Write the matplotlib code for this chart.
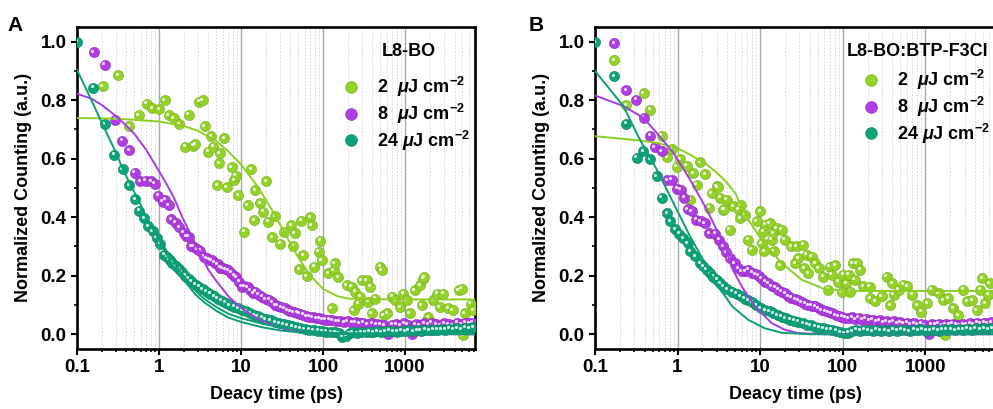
import matplotlib
matplotlib.use('Agg')
import matplotlib.pyplot as plt
from matplotlib.transforms import offset_copy
from matplotlib.lines import Line2D

plt.rcParams['font.family'] = ['Liberation Sans', 'DejaVu Sans']
plt.rcParams['font.weight'] = 'bold'
plt.rcParams['axes.labelweight'] = 'bold'
plt.rcParams['mathtext.fontset'] = 'custom'
plt.rcParams['mathtext.rm'] = 'Liberation Sans:bold'
plt.rcParams['mathtext.it'] = 'Liberation Sans:italic:bold'
plt.rcParams['mathtext.bf'] = 'Liberation Sans:bold'

# ---------------- panel A : L8-BO ----------------
a_t_2 = [0.206, 0.316, 0.434, 0.565, 0.71, 0.82, 1.01, 1.17, 1.31, 1.51, 1.77, 2.09, 2.3, 2.6, 2.78,
         3.1, 3.4, 3.6, 4.0, 4.3, 4.6, 5.1, 5.4, 5.5, 6.2, 6.7, 7.7, 8.3, 8.6, 9.3, 11, 12, 13.2, 14.5,
         15, 17.1, 18.7, 20.2, 21.4, 24, 26, 30, 33.5, 41, 43.6, 45, 51, 54, 57, 63, 70, 73, 78.6, 88,
         92, 96, 115, 128, 134, 139, 154, 194, 224, 235, 246, 270, 283, 296, 340, 355, 373, 390, 432,
         500, 520, 550, 600, 690, 755, 865, 950, 1040, 1140, 1310, 1530, 1600, 1650, 1700, 1900, 2200,
         2450, 2650, 2900, 3350, 3800, 4500, 4900, 5100, 5300, 6300, 6800]
a_v_2 = [0.847, 0.885, 0.712, 0.749, 0.788, 0.773, 0.77, 0.80, 0.749, 0.739, 0.718, 0.641, 0.75, 0.644,
         0.65, 0.795, 0.80, 0.712, 0.624, 0.676, 0.641, 0.509, 0.585, 0.619, 0.67, 0.502, 0.571, 0.527,
         0.542, 0.476, 0.35, 0.442, 0.564, 0.39, 0.493, 0.448, 0.419, 0.522, 0.385, 0.331, 0.404, 0.31,
         0.35, 0.373, 0.301, 0.345, 0.222, 0.388, 0.27, 0.199, 0.4, 0.373, 0.231, 0.282, 0.32, 0.253,
         0.208, 0.088, 0.219, 0.242, 0.196, 0.168, 0.162, 0.082, 0.145, 0.105, 0.128, 0.185, 0.185,
         0.111, 0.162, 0.071, 0.122, 0.231, 0.219, 0.065, 0.071, 0.128, 0.116, 0.093, 0.139, 0.116,
         0.071, 0.151, 0.168, 0.099, 0.19, 0.196, 0.059, 0.116, 0.139, 0.093, 0.139, 0.088, 0.082,
         0.151, 0.156, -0.003, 0.071, 0.105, 0.082]

a_t_8 = [0.16, 0.217, 0.29, 0.354, 0.434, 0.505, 0.59, 0.69, 0.8, 0.89, 0.97, 1.11, 1.2, 1.31, 1.41,
         1.6, 1.77, 2.0, 2.15, 2.3, 2.45, 2.65, 2.9, 3.2, 3.5, 3.8, 4.1, 4.4, 4.8, 5.2, 5.6, 6.0, 6.5,
         7.0, 7.6, 8.2, 8.8, 9.5, 10.2, 11, 12, 13, 14, 15, 16.5, 18, 20, 22, 24, 26, 28, 31, 34, 37,
         40, 44, 48, 52, 57, 62, 68, 75, 82, 90, 98, 108, 118, 130, 145, 160, 180, 200, 225, 250, 280,
         310, 350, 400, 450, 500, 560, 620, 700, 780, 870, 970, 1080, 1200, 1350, 1500, 1700, 1900,
         2100, 2400, 2700, 3000, 3400, 3800, 4300, 4800, 5400, 6000, 6700]
a_v_8 = [0.963, 0.921, 0.733, 0.661, 0.628, 0.552, 0.522, 0.525, 0.522, 0.514, 0.473, 0.453, 0.46,
         0.442, 0.393, 0.381, 0.365, 0.347, 0.335, 0.333, 0.30, 0.299, 0.29, 0.285, 0.265, 0.26, 0.255,
         0.253, 0.245, 0.24, 0.228, 0.225, 0.222, 0.219, 0.21, 0.20, 0.195, 0.18, 0.162, 0.165, 0.16,
         0.15, 0.14, 0.145, 0.135, 0.128, 0.12, 0.118, 0.11, 0.10, 0.098, 0.093, 0.09, 0.082, 0.078,
         0.076, 0.074, 0.07, 0.067, 0.062, 0.06, 0.058, 0.055, 0.054, 0.052, 0.05, 0.05, 0.048, 0.045,
         0.045, 0.042, 0.045, 0.04, 0.042, 0.038, 0.04, 0.035, 0.038, 0.035, 0.033, 0.03, 0.0, 0.032,
         0.035, 0.03, 0.037, 0.033, 0.002, 0.035, 0.03, 0.038, 0.033, 0.04, 0.035, 0.03, 0.038, 0.035,
         0.03, 0.04, 0.035, 0.04, 0.038, 0.04]

a_t_24 = [0.1, 0.158, 0.219, 0.285, 0.361, 0.434, 0.51, 0.575, 0.656, 0.74, 0.84, 0.94, 1.03, 1.16,
          1.25, 1.35, 1.45, 1.6, 1.75, 1.9, 2.1, 2.3, 2.5, 2.8, 3.1, 3.4, 3.8, 4.2, 4.7, 5.2, 5.8, 6.5,
          7.3, 8.2, 9.2, 10.3, 11.5, 13, 14.5, 16, 18, 20, 23, 26, 29, 33, 37, 42, 47, 53, 60, 68, 77,
          87, 98, 110, 125, 140, 155, 170, 190, 210, 230, 260, 290, 330, 370, 410, 460, 510, 570, 640,
          710, 800, 890, 1000, 1100, 1250, 1400, 1550, 1750, 1950, 2200, 2450, 2750, 3100, 3450, 3900,
          4350, 4900, 5500, 6100, 6800]
a_v_24 = [1.0, 0.843, 0.718, 0.613, 0.564, 0.51, 0.462, 0.422, 0.396, 0.37, 0.353, 0.33, 0.31, 0.272,
          0.265, 0.255, 0.245, 0.232, 0.222, 0.212, 0.20, 0.19, 0.18, 0.17, 0.163, 0.155, 0.145, 0.138,
          0.13, 0.122, 0.115, 0.108, 0.10, 0.094, 0.088, 0.082, 0.078, 0.072, 0.066, 0.062, 0.056,
          0.052, 0.047, 0.042, 0.038, 0.034, 0.03, 0.027, 0.024, 0.021, 0.018, 0.015, 0.013, 0.012,
          0.01, 0.009, 0.008, 0.006, 0.004, -0.008, -0.005, 0.003, 0.006, 0.004, 0.008, 0.006, 0.009,
          0.007, 0.01, 0.008, 0.01, 0.012, 0.01, 0.009, 0.012, 0.01, 0.013, 0.011, 0.014, 0.012, 0.015,
          0.013, 0.016, 0.015, 0.018, 0.016, 0.019, 0.017, 0.02, 0.018, 0.022, 0.02, 0.025]

# fitted curves
a_fit_t_2 = [0.1, 0.3, 1, 2, 3, 5, 7, 10, 15, 20, 25, 30, 40, 50, 70, 100, 150, 200, 300, 1000, 7100]
a_fit_v_2 = [0.739, 0.737, 0.727, 0.712, 0.695, 0.66, 0.625, 0.58, 0.515, 0.46, 0.415, 0.375, 0.31,
             0.262, 0.20, 0.155, 0.13, 0.122, 0.12, 0.119, 0.119]
a_fit_t_8 = [0.1, 0.15, 0.2, 0.3, 0.4, 0.5, 0.7, 0.9, 1.2, 1.5, 2, 2.5, 3, 4, 5, 7, 10, 15, 20, 30, 50,
             80, 150, 7100]
a_fit_v_8 = [0.822, 0.805, 0.784, 0.745, 0.713, 0.685, 0.63, 0.579, 0.52, 0.47, 0.39, 0.335, 0.29,
             0.22, 0.182, 0.13, 0.09, 0.058, 0.04, 0.022, 0.01, 0.004, 0.001, 0.0]
a_fit_t_24 = [0.1, 0.15, 0.22, 0.3, 0.35, 0.45, 0.56, 0.7, 0.9, 1.1, 1.4, 1.8, 2.3, 2.75, 3.6, 5, 7,
              10, 18, 30, 45, 80, 150, 7100]
a_fit_v_24 = [0.904, 0.80, 0.699, 0.62, 0.573, 0.51, 0.459, 0.40, 0.345, 0.30, 0.245, 0.20, 0.165,
              0.137, 0.108, 0.08, 0.057, 0.042, 0.024, 0.013, 0.008, 0.003, 0.001, 0.0]
a_fit2_t_24 = [1.0, 1.4, 1.8, 2.3, 2.75, 3.6, 5, 7, 10, 18, 30, 45, 80, 150, 7100]
a_fit2_v_24 = [0.325, 0.262, 0.215, 0.178, 0.15, 0.12, 0.093, 0.07, 0.055, 0.036, 0.024, 0.017,
               0.009, 0.004, 0.002]

# ---------------- panel B : L8-BO:BTP-F3Cl ----------------
b_t_2 = [0.17, 0.238, 0.39, 0.47, 0.64, 0.75, 0.85, 0.98, 1.07, 1.29, 1.42, 1.56, 1.7, 1.87, 2.16,
         2.4, 2.6, 2.97, 3.06, 3.27, 3.6, 3.7, 3.95, 4.3, 4.74, 5.5, 5.7, 5.95, 6.6, 7.2, 7.9, 9.1, 10,
         10.4, 10.9, 11.2, 11.5, 13, 13.8, 14.5, 14.6, 15.8, 17.5, 18.3, 19.9, 24, 26.5, 27.8, 29, 33.5,
         34, 36.5, 38.5, 42, 46.5, 51, 58, 67, 70, 74, 81, 88, 97, 101, 110, 118, 124, 132, 140, 148,
         162, 176, 212, 215, 246, 296, 340, 375, 395, 415, 475, 545, 600, 690, 800, 900, 1050, 1200,
         1450, 1640, 1740, 1900, 2200, 2500, 2900, 3200, 3700, 4200, 4650, 4900, 5300, 5800, 6050]
b_v_2 = [0.937, 0.782, 0.823, 0.768, 0.679, 0.606, 0.634, 0.572, 0.599, 0.576, 0.46, 0.551, 0.511,
         0.588, 0.546, 0.432, 0.483, 0.505, 0.503, 0.466, 0.426, 0.428, 0.46, 0.357, 0.437, 0.425,
         0.397, 0.44, 0.409, 0.323, 0.289, 0.386, 0.42, 0.312, 0.351, 0.283, 0.374, 0.38, 0.323, 0.346,
         0.283, 0.363, 0.237, 0.357, 0.323, 0.30, 0.243, 0.30, 0.26, 0.306, 0.226, 0.272, 0.209, 0.265,
         0.243, 0.226, 0.197, 0.152, 0.231, 0.203, 0.237, 0.18, 0.146, 0.203, 0.175, 0.203, 0.146,
         0.243, 0.186, 0.243, 0.22, 0.165, 0.163, 0.123, 0.112, 0.129, 0.197, 0.10, 0.175, 0.135,
         0.152, 0.169, 0.165, 0.135, 0.10, 0.077, 0.106, 0.152, 0.14, 0.117, -0.002, 0.123, 0.089,
         0.066, 0.152, 0.112, 0.117, 0.083, 0.152, 0.192, 0.106, 0.135, 0.175]

b_t_8 = [0.17, 0.238, 0.314, 0.39, 0.47, 0.53, 0.64, 0.75, 0.85, 0.995, 1.09, 1.2, 1.32, 1.48, 1.67,
         1.9, 2.14, 2.4, 2.85, 3.2, 3.6, 3.9, 4.3, 4.9, 5.4, 6, 6.6, 7.2, 8, 8.8, 9.6, 10.5, 11.5, 12.6,
         13.8, 15.2, 16.7, 18.3, 20, 22, 24, 26.5, 29, 32, 35, 38.5, 42, 46.5, 51, 56, 62, 68, 74, 82,
         90, 99, 108, 118, 130, 143, 157, 172, 190, 210, 230, 255, 280, 310, 340, 375, 415, 455, 500,
         550, 610, 670, 740, 815, 900, 990, 1100, 1200, 1330, 1460, 1610, 1780, 1960, 2160, 2380, 2620,
         2890, 3190, 3520, 3880, 4280, 4720, 5200, 5740, 6330]
b_v_8 = [0.994, 0.834, 0.802, 0.74, 0.679, 0.64, 0.625, 0.526, 0.528, 0.497, 0.494, 0.466, 0.428,
         0.42, 0.391, 0.386, 0.38, 0.346, 0.343, 0.323, 0.30, 0.28, 0.26, 0.243, 0.225, 0.215, 0.215,
         0.22, 0.21, 0.205, 0.20, 0.19, 0.18, 0.175, 0.165, 0.16, 0.152, 0.146, 0.14, 0.13, 0.125,
         0.12, 0.117, 0.11, 0.105, 0.10, 0.097, 0.095, 0.088, 0.083, 0.078, 0.075, 0.072, 0.066,
         0.062, 0.06, 0.057, 0.055, 0.058, 0.052, 0.056, 0.05, 0.053, 0.048, 0.05, 0.045, 0.048,
         0.042, 0.045, 0.04, 0.044, 0.038, 0.042, 0.036, 0.04, 0.035, 0.038, 0.033, 0.036, 0.03, 0.0,
         0.035, 0.032, 0.036, 0.03, 0.035, 0.032, 0.036, 0.033, 0.03, 0.035, 0.033, 0.037, 0.034,
         0.04, 0.036, 0.04, 0.038, 0.042]

b_t_24 = [0.1, 0.17, 0.238, 0.32, 0.385, 0.47, 0.56, 0.64, 0.75, 0.81, 0.93, 1.05, 1.18, 1.32, 1.42,
          1.63, 1.87, 2.05, 2.26, 2.5, 2.7, 3.0, 3.27, 3.6, 4.0, 4.6, 5.2, 5.8, 6.5, 7.2, 8, 9, 10.2,
          11.5, 13, 14.5, 16.3, 18.3, 20.5, 23, 26, 29, 33, 37, 41, 46.5, 52, 58, 65, 74, 83, 93, 104,
          116, 130, 146, 164, 184, 206, 230, 258, 290, 325, 365, 410, 460, 515, 580, 650, 730, 820,
          920, 1030, 1150, 1300, 1450, 1630, 1830, 2050, 2300, 2580, 2900, 3250, 3650, 4100, 4600,
          5150, 5800, 6500]
b_v_24 = [0.999, 0.882, 0.72, 0.603, 0.625, 0.599, 0.54, 0.466, 0.414, 0.386, 0.36, 0.343, 0.329,
          0.312, 0.283, 0.266, 0.243, 0.232, 0.22, 0.208, 0.197, 0.186, 0.175, 0.165, 0.155, 0.146,
          0.138, 0.13, 0.122, 0.117, 0.11, 0.10, 0.09, 0.083, 0.078, 0.072, 0.066, 0.06, 0.055, 0.05,
          0.046, 0.043, 0.038, 0.033, 0.03, 0.026, 0.022, 0.02, 0.017, 0.015, 0.012, 0.008, 0.003,
          0.005, 0.01, 0.015, 0.012, 0.016, 0.013, 0.01, 0.015, 0.012, 0.014, 0.01, 0.015, 0.012,
          0.016, 0.013, 0.01, 0.015, 0.013, 0.017, 0.012, 0.014, 0.016, 0.012, 0.018, 0.015, 0.017,
          0.013, 0.018, 0.016, 0.019, 0.015, 0.02, 0.017, 0.021, 0.018, 0.02]

b_fit_t_2 = [0.1, 0.35, 0.56, 0.98, 1.42, 2.26, 2.85, 3.78, 4.97, 7.2, 10.4, 14, 18.3, 32, 61, 140, 7200]
b_fit_v_2 = [0.677, 0.662, 0.654, 0.637, 0.614, 0.58, 0.557, 0.525, 0.483, 0.391, 0.323, 0.28,
             0.243, 0.186, 0.154, 0.148, 0.148]
b_fit_t_8 = [0.1, 0.22, 0.385, 0.56, 0.89, 1.42, 2.26, 3.0, 3.78, 4.5, 6, 8.7, 13.8, 20, 29, 60, 7200]
b_fit_v_8 = [0.816, 0.78, 0.74, 0.688, 0.62, 0.528, 0.426, 0.355, 0.30, 0.23, 0.163, 0.095, 0.038,
             0.015, 0.004, 0.0, 0.0]
b_fit_t_24 = [0.1, 0.22, 0.35, 0.56, 0.89, 1.42, 2.26, 2.85, 3.78, 4.6, 7.2, 11.5, 18.3, 40, 7200]
b_fit_v_24 = [0.90, 0.78, 0.665, 0.563, 0.449, 0.334, 0.232, 0.175, 0.13, 0.095, 0.049, 0.02,
              0.005, 0.0, 0.0]

labels = [r'2  $\mu$J cm$^{\mathregular{-2}}$', r'8  $\mu$J cm$^{\mathregular{-2}}$',
          r'24 $\mu$J cm$^{\mathregular{-2}}$']
dot_colors = ['#94d22a', '#b13ee3', '#0ca27a']
edge_colors = ['#74ad1c', '#8d28ba', '#088262']
line_colors = ['#8dcf20', '#a63de0', '#0a9f74']


def draw_balls(ax, fig, t, v, color, edge):
    ax.scatter(t, v, s=54, c=color, edgecolors=edge, linewidths=0.4, zorder=3)
    hl = offset_copy(ax.transData, fig=fig, x=-1.0, y=1.0, units='points')
    ax.scatter(t, v, s=5, c='white', alpha=0.85, linewidths=0, transform=hl, zorder=3)


def style_axis(ax, xmax):
    ax.set_xscale('log')
    ax.set_xlim(0.1, xmax)
    ax.set_ylim(-0.05, 1.05)
    ax.set_xticks([0.1, 1, 10, 100, 1000])
    ax.set_xticklabels(['0.1', '1', '10', '100', '1000'])
    ax.set_yticks([0.0, 0.2, 0.4, 0.6, 0.8, 1.0])
    ax.set_yticks([0.1, 0.3, 0.5, 0.7, 0.9], minor=True)
    ax.set_yticklabels(['0.0', '0.2', '0.4', '0.6', '0.8', '1.0'])
    ax.grid(True, axis='x', which='major', color='#a8a8a8', lw=1.0, ls='-')
    ax.grid(True, axis='x', which='minor', color='#d2d2d2', lw=0.6, ls=(0, (2, 2)))
    ax.set_axisbelow(True)
    for s in ax.spines.values():
        s.set_linewidth(1.9)
    ax.tick_params(which='major', direction='out', length=4, width=1.5, labelsize=13.5,
                   top=False, right=False)
    ax.tick_params(which='minor', direction='out', length=2.5, width=1.2, top=False, right=False)
    ax.set_xlabel('Deacy time (ps)', fontsize=13, labelpad=7)
    ax.set_ylabel('Normalized Counting (a.u.)', fontsize=13, labelpad=6)


def panel(fig, rect, xmax, series, fits, title, title_x, leg_x, leg_y):
    ax = fig.add_axes(rect)
    for (t, v), c, e in zip(series, dot_colors, edge_colors):
        draw_balls(ax, fig, t, v, c, e)
    for ft, fv, c in fits:
        ax.plot(ft, fv, color=c, lw=1.4, zorder=4)
    style_axis(ax, xmax)
    handles = [Line2D([], [], ls='none', marker='o', ms=8.5, mfc=c, mec=e, mew=0.4)
               for c, e in zip(dot_colors, edge_colors)]
    ax.legend(handles, labels, loc='upper left', bbox_to_anchor=(leg_x, leg_y), frameon=False,
              fontsize=13, handlelength=1.0, handletextpad=0.9, labelspacing=0.15,
              borderpad=0.2)
    ax.text(title_x, 0.925, title, transform=ax.transAxes, ha='center', va='center',
            fontsize=13, fontweight='bold')
    return ax


fig = plt.figure(figsize=(9.93, 4.09), dpi=100)

panel(fig, [0.0775, 0.147, 0.4008, 0.787], 7100,
      [(a_t_2, a_v_2), (a_t_8, a_v_8), (a_t_24, a_v_24)],
      [(a_fit_t_2, a_fit_v_2, line_colors[0]), (a_fit_t_8, a_fit_v_8, line_colors[1]),
       (a_fit_t_24, a_fit_v_24, line_colors[2]), (a_fit2_t_24, a_fit2_v_24, line_colors[2])],
      'L8-BO', 0.835, 0.635, 0.89)

panel(fig, [0.5992, 0.147, 0.4038, 0.787], 7200,
      [(b_t_2, b_v_2), (b_t_8, b_v_8), (b_t_24, b_v_24)],
      [(b_fit_t_2, b_fit_v_2, line_colors[0]), (b_fit_t_8, b_fit_v_8, line_colors[1]),
       (b_fit_t_24, b_fit_v_24, line_colors[2])],
      'L8-BO:BTP-F3Cl', 0.805, 0.635, 0.912)

fig.text(0.008, 0.925, 'A', fontsize=15, fontweight='bold')
fig.text(0.532, 0.925, 'B', fontsize=15, fontweight='bold')

fig.savefig('out.png', dpi=100)
